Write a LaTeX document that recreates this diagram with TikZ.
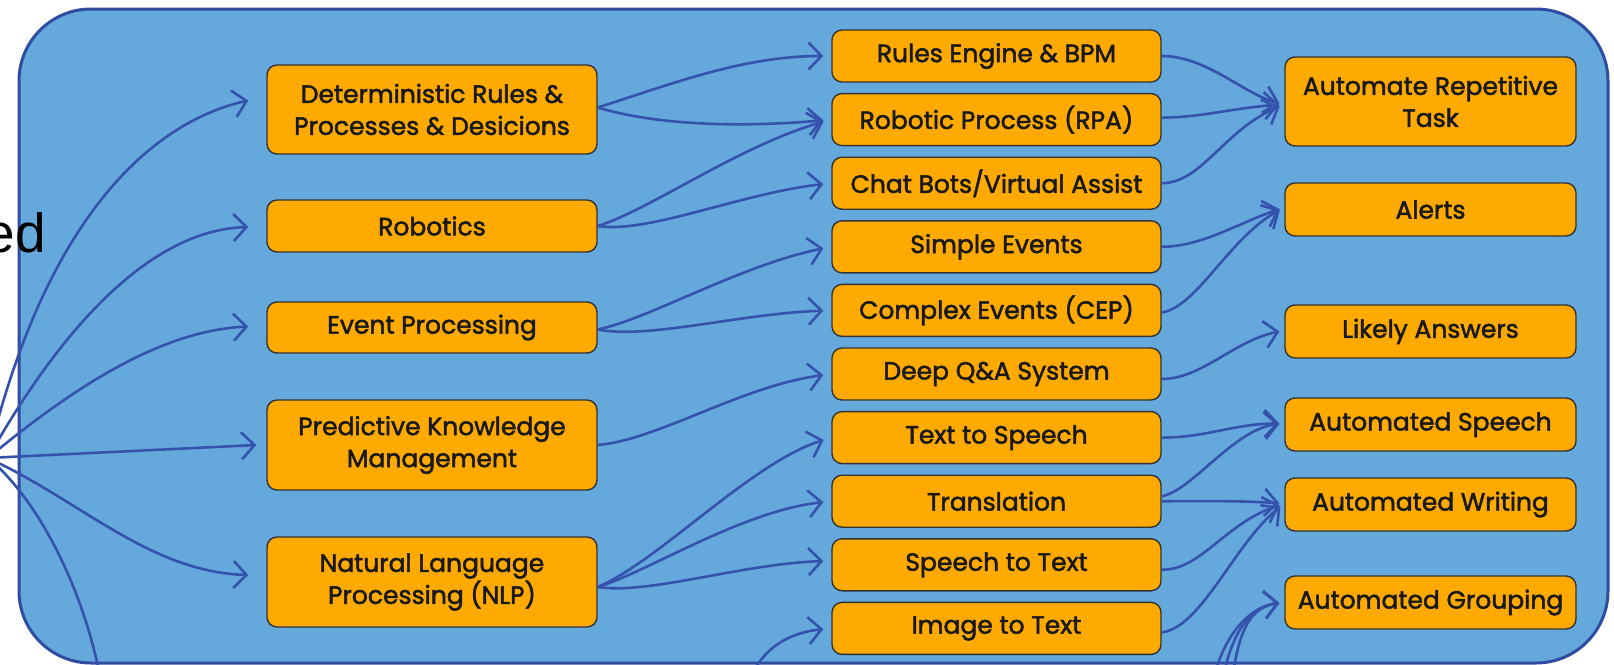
\documentclass[tikz,border=0pt]{standalone}
\usepackage{fontspec}
\setmainfont{Poppins}[FakeBold=2]
\setsansfont{Liberation Sans}
\usetikzlibrary{arrows.meta,calc}
\definecolor{panel}{HTML}{65A8DC}
\definecolor{paneledge}{HTML}{2F4CA0}
\definecolor{wirecol}{HTML}{3552AC}
\definecolor{boxfill}{HTML}{FFAA00}
\definecolor{boxedge}{HTML}{333333}
\newcommand{\boxfont}{\fontsize{25}{32}\selectfont}
\tikzset{
  box/.style={draw=boxedge, line width=1.4pt, fill=boxfill, rounded corners=10pt,
    align=center, inner sep=0pt, font=\boxfont, text=black!90},
  lbox/.style={box, minimum width=330pt},
  mbox/.style={box, minimum width=329pt, minimum height=52pt},
  rbox/.style={box, minimum width=291pt},
  wire/.style={draw=wirecol, line width=2.6pt,
    -{Straight Barb[length=13pt,width=27pt,line width=2.6pt]}},
  lgap/.style={shorten >=8pt},
  rgap/.style={shorten >=5pt},
}
\begin{document}
\begin{tikzpicture}[x=1pt,y=-1pt]
\useasboundingbox (0,0) rectangle (1614,664);
\clip (0,0) rectangle (1614,664);
\fill[white] (0,0) rectangle (1614,664);

% panel
\draw[paneledge, line width=3pt, fill=panel, rounded corners=72pt] (19,9) rectangle (1608,663);

% heading fragment
\node[font=\sffamily\fontsize{55}{55}\selectfont, anchor=base east, inner sep=0pt] (headfrag) at (46,252) {ed};

% first column
\node[lbox, minimum height=89pt] (L1) at (432,109.5) {Deterministic Rules \&\\Processes \& Desicions};
\node[lbox, minimum height=52pt] (L2) at (432,226) {Robotics};
\node[lbox, minimum height=51pt] (L3) at (432,327.5) {Event Processing};
\node[lbox, minimum height=90pt] (L4) at (432,445) {Predictive Knowledge\\Management};
\node[lbox, minimum height=90pt] (L5) at (432,582) {Natural Language\\Processing (NLP)};

% second column
\node[mbox] (M1) at (996.5,56) {Rules Engine \& BPM};
\node[mbox] (M2) at (996.5,119.6) {Robotic Process (RPA)};
\node[mbox] (M3) at (996.5,183.2) {Chat Bots/Virtual Assist};
\node[mbox] (M4) at (996.5,246.8) {Simple Events};
\node[mbox] (M5) at (996.5,310.4) {Complex Events (CEP)};
\node[mbox] (M6) at (996.5,374) {Deep Q\&A System};
\node[mbox] (M7) at (996.5,437.6) {Text to Speech};
\node[mbox] (M8) at (996.5,501.2) {Translation};
\node[mbox] (M9) at (996.5,564.8) {Speech to Text};
\node[mbox] (M10) at (996.5,628.4) {Image to Text};

% third column
\node[rbox, minimum height=89pt] (R1) at (1430.5,101.5) {Automate Repetitive\\Task};
\node[rbox, minimum height=53pt] (R2) at (1430.5,209.5) {Alerts};
\node[rbox, minimum height=53pt] (R3) at (1430.5,331.5) {Likely Answers};
\node[rbox, minimum height=53pt] (R4) at (1430.5,424.5) {Automated Speech};
\node[rbox, minimum height=53pt] (R5) at (1430.5,504.5) {Automated Writing};
\node[rbox, minimum height=53pt] (R6) at (1430.5,602.5) {Automated Grouping};

% off-panel ends of connectors
\coordinate (hub) at (-12,458);
\coordinate (exitA) at (104,700);
\coordinate (feedM) at (745,700);
\coordinate (feedRa) at (1210,700);
\coordinate (feedRb) at (1220,700);
\coordinate (feedRc) at (1230,700);

% fan into the first column
\draw[wire] (hub) .. controls +(60,-250) and +(-90,20) .. ($(L1.west)+(-18,-9)$);
\draw[wire] (hub) .. controls +(72,-128) and +(-99,3) .. ($(L2.west)+(-18,1)$);
\draw[wire] (hub) .. controls +(82,-68) and +(-89,4) .. ($(L3.west)+(-18,-1)$);
\draw[wire] (hub) -- ($(L4.west)+(-10,0)$);
\draw[wire] (hub) .. controls +(92,42) and +(-99,-3) .. ($(L5.west)+(-18,-7)$);
\draw[draw=wirecol, line width=2.6pt] (hub) .. controls +(52,42) and +(-14,-100) .. (exitA);

% first column to second column
\draw[wire, lgap] ($(L1.east)+(0,-2)$) .. controls +(70,-22) and +(-90,0) .. (M1.west);
\draw[wire, lgap] ($(L1.east)+(0,-2)$) .. controls +(60,18) and +(-90,8) .. (M2.west);
\draw[wire, lgap] (L2.east) .. controls +(50,-15) and +(-90,25) .. (M2.west);
\draw[wire, lgap] (L2.east) .. controls +(50,8) and +(-90,10) .. (M3.west);
\draw[wire, lgap] ($(L3.east)+(0,2)$) .. controls +(50,-10) and +(-90,18) .. (M4.west);
\draw[wire, lgap] ($(L3.east)+(0,2)$) .. controls +(50,10) and +(-90,3) .. (M5.west);
\draw[wire, lgap] (L4.east) .. controls +(60,-5) and +(-90,12) .. (M6.west);
\draw[wire, lgap] ($(L5.east)+(0,5)$) .. controls +(60,-25) and +(-80,25) .. (M7.west);
\draw[wire, lgap] ($(L5.east)+(0,5)$) .. controls +(50,-15) and +(-90,10) .. (M8.west);
\draw[wire, lgap] ($(L5.east)+(0,5)$) .. controls +(50,8) and +(-90,3) .. ($(M9.west)+(0,-4)$);
\draw[wire, lgap] (feedM) .. controls +(7,-50) and +(-42,4) .. (M10.west);

% second column to third column
\draw[wire, rgap] (M1.east) .. controls +(45,0) and +(-40,-10) .. ($(R1.west)+(0,3)$);
\draw[wire, rgap] ($(M2.east)+(0,-2)$) .. controls +(40,0) and +(-50,3) .. ($(R1.west)+(0,3)$);
\draw[wire, rgap] (M3.east) .. controls +(40,0) and +(-60,25) .. ($(R1.west)+(0,3)$);
\draw[wire, rgap] (M4.east) .. controls +(40,0) and +(-45,15) .. ($(R2.west)+(0,-2)$);
\draw[wire, rgap] ($(M5.east)+(0,2)$) .. controls +(35,-5) and +(-55,30) .. ($(R2.west)+(0,-2)$);
\draw[wire, rgap] ($(M6.east)+(0,5)$) .. controls +(40,0) and +(-50,10) .. ($(R3.west)+(0,-1)$);
\draw[wire, rgap] (M7.east) .. controls +(45,0) and +(-50,0) .. ($(R4.west)+(0,-1)$);
\draw[wire, rgap] ($(M8.east)+(0,-5)$) .. controls +(30,-5) and +(-50,5) .. ($(R4.west)+(0,-1)$);
\draw[wire, rgap] (M8.east) .. controls +(50,0) and +(-50,-3) .. ($(R5.west)+(0,-1)$);
\draw[wire, rgap] ($(M9.east)+(0,5)$) .. controls +(40,0) and +(-60,20) .. ($(R5.west)+(0,-1)$);
\draw[wire, rgap] ($(M10.east)+(0,4)$) .. controls +(40,-5) and +(-50,40) .. ($(R5.west)+(0,-1)$);
\draw[wire, rgap] (feedRa) .. controls +(5,-50) and +(-42,5) .. (R6.west);
\draw[wire, rgap] (feedRb) .. controls +(5,-50) and +(-42,5) .. (R6.west);
\draw[wire, rgap] (feedRc) .. controls +(5,-50) and +(-42,5) .. (R6.west);
\end{tikzpicture}
\end{document}
